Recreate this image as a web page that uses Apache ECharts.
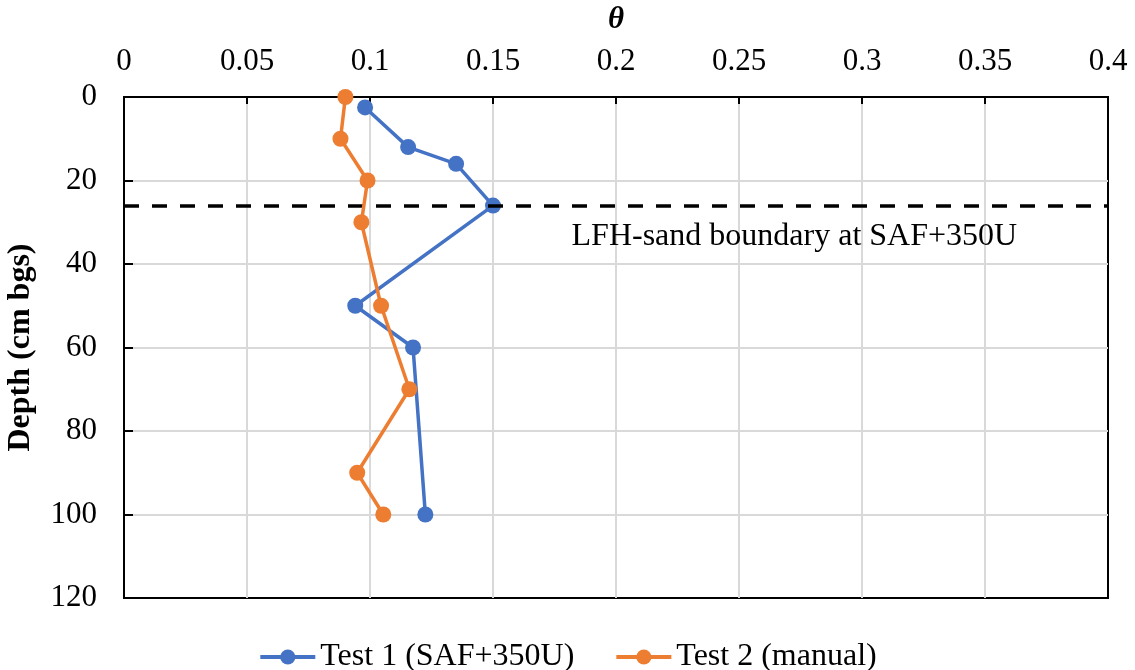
<!DOCTYPE html>
<html>
<head>
<meta charset="utf-8">
<title>Soil moisture profile</title>
<script src="https://cdn.jsdelivr.net/npm/echarts@6/dist/echarts.min.js"></script>
<style>
  html, body { margin: 0; padding: 0; background: #fff; }
  #chart { width: 1135px; height: 670px; }
</style>
</head>
<body>
<div id="chart"></div>
<script>
// Volumetric water content (theta) against depth below ground surface
const test1Theta = [0.098, 0.1155, 0.135, 0.150, 0.094, 0.1175, 0.1225];
const test1Depth = [2.5, 12, 16, 26, 50, 60, 100];
const test2Theta = [0.090, 0.088, 0.099, 0.0965, 0.1045, 0.116, 0.0948, 0.1054];
const test2Depth = [0, 10, 20, 30, 50, 70, 90, 100];
const seriesNames = ['Test 1 (SAF+350U)', 'Test 2 (manual)'];
const thetaTicks = [0, 0.05, 0.1, 0.15, 0.2, 0.25, 0.3, 0.35, 0.4];
const depthTicks = [0, 20, 40, 60, 80, 100, 120];
const boundaryDepth = 26;
const boundaryLabel = 'LFH-sand boundary at SAF+350U';
const boundaryLabelAt = [0.2725, 33.5];

const pair = (xs, ys) => xs.map((x, i) => [x, ys[i]]);

const FONT = '"Liberation Serif", "Times New Roman", serif';
const FS = 31;
const BLUE = '#4472C4';
const ORANGE = '#ED7D31';

const chart = echarts.init(document.getElementById('chart'), null, { renderer: 'canvas' });

chart.setOption({
  animation: false,
  textStyle: { fontFamily: FONT },
  grid: {
    left: 124, right: 27, top: 97, bottom: 72,
    outerBoundsMode: 'none',
    containLabel: false,
    show: true, borderColor: '#000', borderWidth: 2, backgroundColor: 'transparent'
  },
  legend: {
    bottom: -8, left: 'center',
    itemWidth: 55, itemHeight: 19, itemGap: 40,
    lineStyle: { width: 4 },
    textStyle: { fontFamily: FONT, fontSize: 32, color: '#000', padding: [0, 0, 0, 0] },
    data: seriesNames
  },
  xAxis: {
    type: 'value', position: 'top',
    min: thetaTicks[0], max: thetaTicks[thetaTicks.length - 1], interval: 0.05,
    name: 'θ', nameLocation: 'middle', nameGap: 62,
    nameTextStyle: { fontFamily: FONT, fontSize: FS, fontWeight: 'bold', fontStyle: 'italic', color: '#000' },
    axisLine: { show: true, lineStyle: { color: '#000', width: 2 } },
    axisTick: { show: true, inside: true, length: 7, lineStyle: { color: '#000', width: 2 } },
    axisLabel: {
      fontFamily: FONT, fontSize: FS, color: '#000', margin: 20,
      formatter: v => String(parseFloat(v.toFixed(2)))
    },
    splitLine: { show: true, showMinLine: false, showMaxLine: false, lineStyle: { color: '#d9d9d9', width: 2 } }
  },
  yAxis: {
    type: 'value', inverse: true,
    min: depthTicks[0], max: depthTicks[depthTicks.length - 1], interval: 20,
    name: 'Depth (cm bgs)', nameLocation: 'middle', nameGap: 87,
    nameTextStyle: { fontFamily: FONT, fontSize: 32, fontWeight: 'bold', color: '#000' },
    axisLine: { show: true, lineStyle: { color: '#000', width: 2 } },
    axisTick: { show: true, inside: true, length: 9, lineStyle: { color: '#000', width: 2 } },
    axisLabel: { fontFamily: FONT, fontSize: FS, color: '#000', margin: 27 },
    splitLine: { show: true, showMinLine: false, showMaxLine: false, lineStyle: { color: '#d9d9d9', width: 2 } }
  },
  series: [
    {
      name: seriesNames[0], type: 'line',
      data: pair(test1Theta, test1Depth),
      symbol: 'circle', symbolSize: 16,
      itemStyle: { color: BLUE },
      lineStyle: { color: BLUE, width: 3.5 },
      z: 4
    },
    {
      name: seriesNames[1], type: 'line',
      data: pair(test2Theta, test2Depth),
      symbol: 'circle', symbolSize: 16,
      itemStyle: { color: ORANGE },
      lineStyle: { color: ORANGE, width: 3.5 },
      z: 5
    },
    {
      // dashed boundary line plus its caption
      name: 'boundary', type: 'line',
      data: [],
      silent: true,
      z: 6,
      markLine: {
        silent: true, symbol: 'none',
        lineStyle: { color: '#000', width: 3.5, type: [15, 13] },
        label: { show: false },
        data: [[
          { coord: [thetaTicks[0], boundaryDepth] },
          { coord: [thetaTicks[thetaTicks.length - 1], boundaryDepth] }
        ]]
      },
      markPoint: {
        silent: true, symbol: 'circle', symbolSize: 0,
        label: {
          show: true, position: 'inside', formatter: boundaryLabel,
          fontFamily: FONT, fontSize: 32, color: '#000'
        },
        data: [{ coord: boundaryLabelAt }]
      }
    }
  ]
});
</script>
</body>
</html>
